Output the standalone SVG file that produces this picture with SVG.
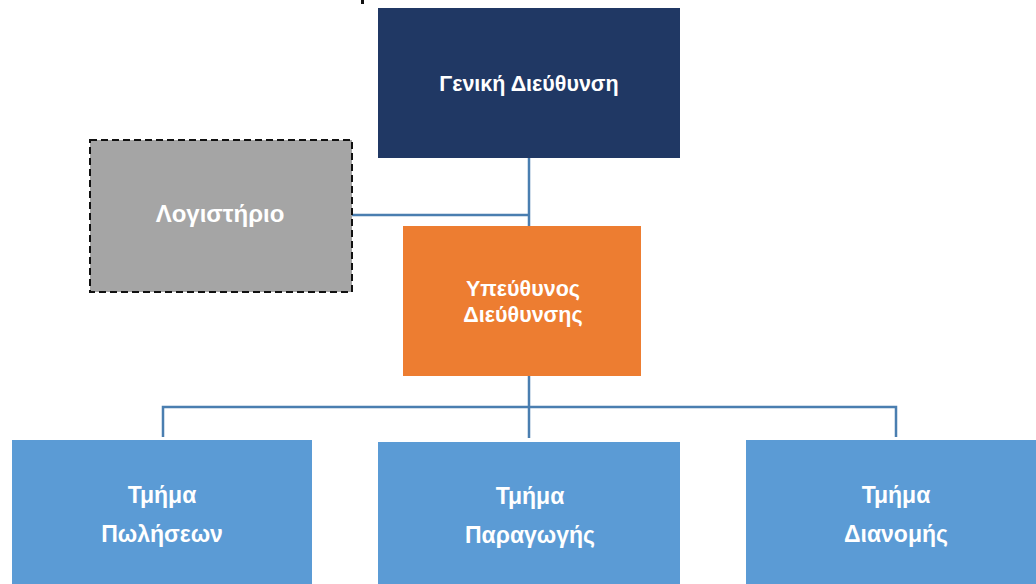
<svg xmlns="http://www.w3.org/2000/svg" width="1036" height="584" viewBox="0 0 1036 584">
<style>
text{font-family:"Liberation Sans","DejaVu Sans",sans-serif;font-weight:bold;fill:#ffffff;text-anchor:middle}
.c{fill:none;stroke:#4a7eb0;stroke-width:2.5}
.dept{fill:#5b9bd5}
</style>
<rect x="0" y="0" width="1036" height="584" fill="#ffffff"/>
<rect x="361" y="0" width="3" height="4" fill="#111111"/>
<g id="connectors">
<path class="c" d="M529 158V226M352 215H529"/>
<path class="c" d="M529 376V438M163 437V407H896V437"/>
</g>
<g id="node-geniki">
<rect x="378" y="8" width="302" height="150" fill="#203864"/>
<text x="529" y="91" font-size="21.5">Γενική Διεύθυνση</text>
</g>
<g id="node-logistirio">
<rect x="90" y="140" width="262" height="152" fill="#a5a5a5" stroke="#111111" stroke-width="2" stroke-dasharray="7,4"/>
<text x="220" y="222" font-size="24">Λογιστήριο</text>
</g>
<g id="node-ypeuthynos">
<rect x="403" y="226" width="238" height="150" fill="#ed7d31"/>
<text x="523" y="296" font-size="21.5">Υπεύθυνος</text>
<text x="523" y="322" font-size="21.5">Διεύθυνσης</text>
</g>
<g id="node-poliseon">
<rect class="dept" x="12" y="440" width="300" height="144"/>
<text x="162" y="503" font-size="23">Τμήμα</text>
<text x="162" y="542" font-size="23">Πωλήσεων</text>
</g>
<g id="node-paragogis">
<rect class="dept" x="378" y="442" width="302" height="142"/>
<text x="530" y="504" font-size="23">Τμήμα</text>
<text x="530" y="543" font-size="23">Παραγωγής</text>
</g>
<g id="node-dianomis">
<rect class="dept" x="746" y="440" width="290" height="144"/>
<text x="896" y="503" font-size="23">Τμήμα</text>
<text x="896" y="542" font-size="23">Διανομής</text>
</g>
</svg>
